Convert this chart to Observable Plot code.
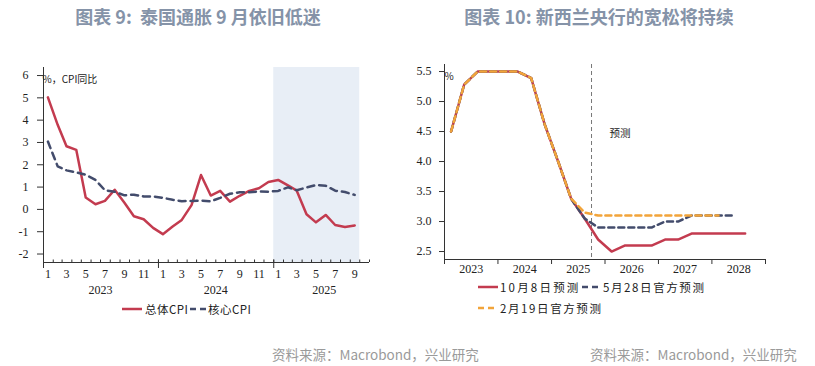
<!DOCTYPE html>
<html><head><meta charset="utf-8">
<script src="https://cdn.jsdelivr.net/npm/d3@7"></script>
<script src="https://cdn.jsdelivr.net/npm/@observablehq/plot@0.6"></script>
<style>
body{margin:0;background:#fff;}
#wrap{position:relative;width:815px;height:366px;overflow:hidden;font-family:"Noto Sans CJK SC","Noto Sans",sans-serif;background:#fff;}
.title{position:absolute;top:4px;font-size:18px;font-weight:700;color:#8593a8;white-space:nowrap;transform:translateX(-50%);line-height:24px;}
.src{position:absolute;top:344px;font-size:13.5px;color:#9a9a9a;white-space:nowrap;line-height:20px;}
.plot{position:absolute;top:0;}
.plot svg{overflow:visible;}
.leg{position:absolute;font-size:11.5px;color:#222;white-space:nowrap;line-height:14px;height:14px;}
.leg svg{position:absolute;top:2px;left:0;}
.leg span{position:absolute;top:0;}
</style></head>
<body><div id="wrap">
<div class="title" style="left:198px">图表 9:&nbsp; 泰国通胀 9 月依旧低迷</div>
<div class="title" style="left:599px">图表 10: 新西兰央行的宽松将持续</div>
<div id="p1" class="plot" style="left:0px"></div>
<div id="p2" class="plot" style="left:407px"></div>
<div class="src" style="left:272px">资料来源：Macrobond，兴业研究</div>
<div class="src" style="left:590px">资料来源：Macrobond，兴业研究</div>
<div id="legends"></div>
</div>
<script>
// ---------- Left chart data (Thailand CPI, % YoY) ----------
const months = ["2023-01","2023-02","2023-03","2023-04","2023-05","2023-06","2023-07","2023-08","2023-09","2023-10","2023-11","2023-12",
"2024-01","2024-02","2024-03","2024-04","2024-05","2024-06","2024-07","2024-08","2024-09","2024-10","2024-11","2024-12",
"2025-01","2025-02","2025-03","2025-04","2025-05","2025-06","2025-07","2025-08","2025-09"];
const headlineCPI = [5.02,3.79,2.83,2.67,0.53,0.23,0.38,0.88,0.30,-0.31,-0.44,-0.83,
-1.11,-0.77,-0.47,0.19,1.54,0.62,0.83,0.35,0.61,0.83,0.95,1.23,
1.32,1.08,0.84,-0.22,-0.58,-0.25,-0.70,-0.79,-0.72];
const coreCPI = [3.04,1.93,1.75,1.66,1.55,1.32,0.86,0.79,0.63,0.66,0.58,0.58,
0.52,0.43,0.37,0.38,0.39,0.36,0.52,0.70,0.77,0.77,0.80,0.79,
0.83,0.99,0.86,0.98,1.09,1.06,0.84,0.78,0.65];
const leftSeriesNames = ["总体CPI","核心CPI"];
const leftYTicks = [-2,-1,0,1,2,3,4,5,6];
const leftYears = ["2023","2024","2025"];
const shadeRange = ["2025-01","2025-10"];

// ---------- Right chart data (NZ OCR paths, %) ----------
const quarters = ["2023Q1","2023Q2","2023Q3","2023Q4","2024Q1","2024Q2","2024Q3","2024Q4",
"2025Q1","2025Q2","2025Q3","2025Q4","2026Q1","2026Q2","2026Q3","2026Q4",
"2027Q1","2027Q2","2027Q3","2027Q4","2028Q1","2028Q2","2028Q3"];
const oct8 = [4.5,5.28,5.5,5.5,5.5,5.5,5.39,4.62,4.0,3.38,3.05,2.7,2.5,2.6,2.6,2.6,2.7,2.7,2.8,2.8,2.8,2.8,2.8];
const may28 = [4.5,5.28,5.5,5.5,5.5,5.5,5.39,4.62,4.0,3.38,3.05,2.9,2.9,2.9,2.9,2.9,3.0,3.0,3.1,3.1,3.1,3.1];
const feb19 = [4.5,5.28,5.5,5.5,5.5,5.5,5.39,4.62,4.0,3.38,3.15,3.1,3.1,3.1,3.1,3.1,3.1,3.1,3.1,3.1,3.1];
const rightSeriesNames = ["10月8日预测","5月28日官方预测","2月19日官方预测"];
const rightYTicks = [2.5,3.0,3.5,4.0,4.5,5.0,5.5];
const rightYears = ["2023","2024","2025","2026","2027","2028"];
const forecastStart = "2025-10";

const RED = "#c33b4f", NAVY = "#434c6c", ORANGE = "#f2a43a", SHADE = "#e8eef6", AX = "#333";

const ym = s => { const [y,m] = s.split("-").map(Number); return new Date(Date.UTC(y, m-1, 1)); };
const midMonth = s => { const [y,m] = s.split("-").map(Number); return new Date(Date.UTC(y, m-1, 15)); };
const midQuarter = s => { const y = +s.slice(0,4), q = +s.slice(5); return new Date(Date.UTC(y, (q-1)*3 + 1, 15)); };

// ---------- Left chart ----------
{
  const W = 407, H = 320, mL = 43, mR = 38, mT = 67, mB = 58;
  const xDom = [new Date(Date.UTC(2023,0,1)), new Date(Date.UTC(2025,10,1))];
  const yDom = [-2.38, 6.36];
  const head = months.map((m,i) => ({date: midMonth(m), v: headlineCPI[i]}));
  const core = months.map((m,i) => ({date: midMonth(m), v: coreCPI[i]}));
  const monthStarts = d3.utcMonth.range(xDom[0], d3.utcMonth.offset(xDom[1], 1));
  const yearStarts = monthStarts.filter(d => d.getUTCMonth() === 0);
  const monthLabels = months.filter(m => (+m.slice(5)) % 2 === 1).map(m => ({date: midMonth(m), t: String(+m.slice(5))}));
  const yearLabels = leftYears.map(y => ({date: y === "2025" ? new Date(Date.UTC(2025,5,10)) : new Date(Date.UTC(+y,6,1)), t: y}));
  const fh = H - mT - mB;
  const p = Plot.plot({
    width: W, height: H, marginLeft: mL, marginRight: mR, marginTop: mT, marginBottom: mB,
    style: {fontFamily: "'Liberation Serif', serif", fontSize: "12px", color: "#222", background: "transparent"},
    x: {type: "utc", domain: xDom, axis: null},
    y: {domain: yDom, axis: null},
    marks: [
      Plot.rect([{a: ym(shadeRange[0]), b: ym(shadeRange[1])}], {x1: "a", x2: "b", fill: SHADE}),
      Plot.axisY({ticks: leftYTicks, tickFormat: d => String(d), tickSize: 6, tickPadding: 9, fontSize: 12, stroke: AX, label: null}),
      Plot.ruleX([xDom[0]], {stroke: AX, strokeWidth: 1}),
      Plot.ruleY([yDom[0]], {stroke: AX, strokeWidth: 1}),
      Plot.ruleX(monthStarts, {stroke: AX, insetTop: fh - 2.5}),
      Plot.ruleX(yearStarts, {stroke: AX, insetTop: fh - 2.5, insetBottom: -6}),
      Plot.text(monthLabels, {x: "date", text: "t", frameAnchor: "bottom", dy: 15, fontSize: 12}),
      Plot.text(yearLabels, {x: "date", text: "t", frameAnchor: "bottom", dy: 31, fontSize: 12}),
      Plot.lineY(head, {x: "date", y: "v", stroke: RED, strokeWidth: 2.5}),
      Plot.lineY(core, {x: "date", y: "v", stroke: NAVY, strokeWidth: 2.5, strokeDasharray: "7,5"}),
      Plot.text(["%，CPI同比"], {frameAnchor: "top-left", dy: 8, dx: -1, textAnchor: "start", fontSize: 10, fontFamily: "'Noto Sans CJK SC', sans-serif"})
    ]
  });
  document.getElementById("p1").append(p);
}

// ---------- Right chart ----------
{
  const W = 408, H = 320, mL = 37, mR = 50, mT = 64, mB = 61;
  const xDom = [new Date(Date.UTC(2023,0,1)), new Date(Date.UTC(2029,0,1))];
  const yDom = [2.367, 5.617];
  const s1 = quarters.slice(0, oct8.length).map((q,i) => ({date: midQuarter(q), v: oct8[i]}));
  const s2 = quarters.slice(0, may28.length).map((q,i) => ({date: midQuarter(q), v: may28[i]}));
  const s3 = quarters.slice(0, feb19.length).map((q,i) => ({date: midQuarter(q), v: feb19[i]}));
  const yearStarts = d3.utcYear.range(xDom[0], d3.utcYear.offset(xDom[1], 1));
  const yearLabels = rightYears.map(y => ({date: new Date(Date.UTC(+y,6,2)), t: y}));
  const fh = H - mT - mB;
  const p = Plot.plot({
    width: W, height: H, marginLeft: mL, marginRight: mR, marginTop: mT, marginBottom: mB,
    style: {fontFamily: "'Liberation Serif', serif", fontSize: "12px", color: "#222", background: "transparent"},
    x: {type: "utc", domain: xDom, axis: null},
    y: {domain: yDom, axis: null},
    marks: [
      Plot.axisY({ticks: rightYTicks, tickFormat: d3.format(".1f"), tickSize: 5, tickPadding: 8, fontSize: 12, stroke: AX, label: null}),
      Plot.ruleX([xDom[0]], {stroke: AX, strokeWidth: 1}),
      Plot.ruleY([yDom[0]], {stroke: AX, strokeWidth: 1}),
      Plot.ruleX(yearStarts, {stroke: AX, insetTop: fh, insetBottom: -5}),
      Plot.text(yearLabels, {x: "date", text: "t", frameAnchor: "bottom", dy: 13, fontSize: 12}),
      Plot.ruleX([ym(forecastStart)], {stroke: "#777", strokeWidth: 1, strokeDasharray: "4,3"}),
      Plot.text(["预测"], {x: [new Date(Date.UTC(2026,1,1))], y: [4.47], textAnchor: "start", fontSize: 10.5, fill: "#222", fontFamily: "'Noto Sans CJK SC', sans-serif"}),
      Plot.lineY(s1, {x: "date", y: "v", stroke: RED, strokeWidth: 2.5}),
      Plot.lineY(s2, {x: "date", y: "v", stroke: NAVY, strokeWidth: 2.5, strokeDasharray: "6,4"}),
      Plot.lineY(s3, {x: "date", y: "v", stroke: ORANGE, strokeWidth: 2.5, strokeDasharray: "6,4"}),
      Plot.text(["%"], {frameAnchor: "top-left", dy: 8, dx: 0, textAnchor: "start", fontSize: 10, fontFamily: "'Noto Sans CJK SC', sans-serif"})
    ]
  });
  document.getElementById("p2").append(p);
}

// ---------- Legends ----------
{
  const items = [
    {x: 122, y: 309, w: 20, color: RED, dash: null, label: leftSeriesNames[0], tx: 145, ls: 0.5},
    {x: 190, y: 309, w: 17, color: NAVY, dash: "6,4", label: leftSeriesNames[1], tx: 208, ls: 0.5},
    {x: 478, y: 287, w: 20, color: RED, dash: null, label: rightSeriesNames[0], tx: 500, ls: 2.2},
    {x: 582, y: 287, w: 19, color: NAVY, dash: "6,4", label: rightSeriesNames[1], tx: 603, ls: 1.6},
    {x: 478, y: 308, w: 20, color: ORANGE, dash: "6,4", label: rightSeriesNames[2], tx: 500, ls: 1.6}
  ];
  const host = document.getElementById("legends");
  for (const it of items) {
    const d = document.createElement("div");
    d.className = "leg";
    d.style.left = it.x + "px";
    d.style.top = (it.y - 7) + "px";
    d.innerHTML = `<svg width="${it.w}" height="10"><line x1="0" x2="${it.w}" y1="5" y2="5" stroke="${it.color}" stroke-width="2.5" ${it.dash ? `stroke-dasharray="${it.dash}"` : ""}/></svg><span style="left:${it.tx - it.x}px;letter-spacing:${it.ls}px">${it.label}</span>`;
    host.append(d);
  }
}
</script>
</body></html>
